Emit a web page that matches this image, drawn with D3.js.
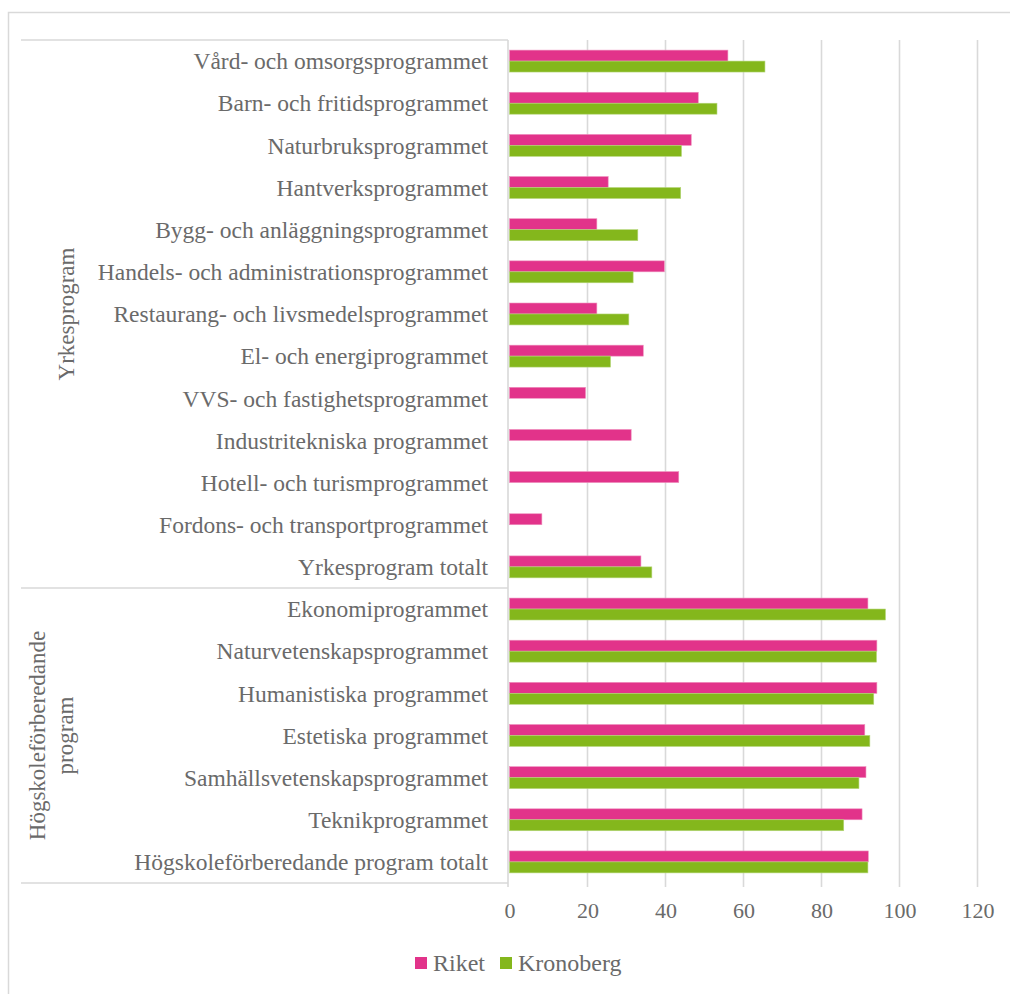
<!DOCTYPE html>
<html><head><meta charset="utf-8">
<script src="https://cdn.jsdelivr.net/npm/d3@7"></script>
<style>body{margin:0;background:#fff}svg{display:block}text{font-family:"Liberation Serif","Times New Roman",serif;fill:#6a6a6a}</style>
</head><body><svg id="c" width="1010" height="994"></svg>
<script>
const categories = [
 "Vård- och omsorgsprogrammet","Barn- och fritidsprogrammet","Naturbruksprogrammet","Hantverksprogrammet",
 "Bygg- och anläggningsprogrammet","Handels- och administrationsprogrammet","Restaurang- och livsmedelsprogrammet",
 "El- och energiprogrammet","VVS- och fastighetsprogrammet","Industritekniska programmet","Hotell- och turismprogrammet",
 "Fordons- och transportprogrammet","Yrkesprogram totalt",
 "Ekonomiprogrammet","Naturvetenskapsprogrammet","Humanistiska programmet","Estetiska programmet",
 "Samhällsvetenskapsprogrammet","Teknikprogrammet","Högskoleförberedande program totalt"];
const groups = [{name:["Yrkesprogram"], count:13},{name:["Högskoleförberedande","program"], count:7}];
const seriesNames = ["Riket","Kronoberg"];
const riket =    [56.0,48.4,46.6,25.3,22.4,39.7,22.4,34.3,19.5,31.2,43.4,8.3,33.7, 91.9,94.2,94.2,91.1,91.4,90.4,92.0];
const kronoberg = [65.5,53.2,44.1,43.9,32.9,31.7,30.6,25.9,null,null,null,null,36.5, 96.4,94.1,93.4,92.4,89.6,85.7,91.9];
const xTicks = [0,20,40,60,80,100,120];
const colors = ["#E2338A","#84B71C"];

const svg = d3.select("#c");
const plotTop=40, plotBottom=883, axisX=509.5;
const x = d3.scaleLinear().domain([0,120]).range([axisX,977.5]);
const y = d3.scaleBand().domain(categories).range([plotTop,plotBottom]);
const bw = y.bandwidth();
const y1 = d3.scaleBand().domain(seriesNames).range([bw*0.24,bw*0.76]);
const grid="#d9d9d9";

// chart border
svg.append("rect").attr("x",8.5).attr("y",12.5).attr("width",1100).attr("height",1100).attr("fill","none").attr("stroke",grid).attr("stroke-width",1.5);

// gridlines
svg.append("g").selectAll("line").data(xTicks.slice(1)).join("line")
 .attr("x1",d=>x(d)).attr("x2",d=>x(d)).attr("y1",plotTop).attr("y2",plotBottom+4)
 .attr("stroke",grid).attr("stroke-width",1.6);

// tick labels
const xAxis = d3.axisBottom(x).tickValues(xTicks).tickSize(0).tickPadding(0);
const ga = svg.append("g").attr("transform",`translate(0,${plotBottom})`).call(xAxis);
ga.select(".domain").remove();
ga.selectAll("text").attr("y",35).attr("dy",0).style("font-size","22px").style("font-family","'Liberation Serif',serif").attr("fill","#6a6a6a");

// bars
const data = categories.map((c,i)=>({c, vals:[riket[i],kronoberg[i]]}));
const g = svg.append("g");
data.forEach(d=>{
  d.vals.forEach((v,j)=>{
    if(v==null) return;
    g.append("rect").attr("x",x(0)).attr("y",y(d.c)+y1(seriesNames[j]))
     .attr("width",x(v)-x(0)).attr("height",y1.bandwidth())
     .attr("fill",colors[j]).attr("stroke",j==0?"#ee8fbd":"#b5d67a").attr("stroke-width",0.6);
  });
});

// category labels
svg.append("g").selectAll("text").data(categories).join("text")
 .attr("x",488).attr("y",d=>y(d)+bw/2).attr("dy","0.35em").attr("text-anchor","end")
 .style("font-size","23.5px").text(d=>d);

// multi-level axis lines
svg.append("line").attr("x1",508).attr("x2",508).attr("y1",plotTop).attr("y2",plotBottom+4).attr("stroke",grid).attr("stroke-width",1.6);
let idx=0;
const bounds=[plotTop];
groups.forEach(gr=>{idx+=gr.count; bounds.push(y(categories[idx-1])+bw);});
svg.append("g").selectAll("line").data(bounds).join("line")
 .attr("x1",21).attr("x2",508).attr("y1",d=>d).attr("y2",d=>d).attr("stroke",grid).attr("stroke-width",1.6);

// group labels
groups.forEach((gr,i)=>{
  const cy=(bounds[i]+bounds[i+1])/2;
  const n=gr.name.length;
  const t=svg.append("text").attr("transform",`translate(${n==1?66:51},${cy}) rotate(-90)`)
    .attr("text-anchor","middle").style("font-size","23px");
  gr.name.forEach((s,k)=>t.append("tspan").attr("x",0).attr("dy",k==0?(n==1?"0.35em":"-0.25em"):"1.2em").text(s));
});

// legend
const lg=svg.append("g");
const lx=[415,500];
seriesNames.forEach((s,i)=>{
  lg.append("rect").attr("x",lx[i]).attr("y",957).attr("width",12).attr("height",12).attr("fill",colors[i]);
  lg.append("text").attr("x",lx[i]+18).attr("y",963).attr("dy","0.35em").style("font-size","24px").text(s);
});
</script></body></html>
